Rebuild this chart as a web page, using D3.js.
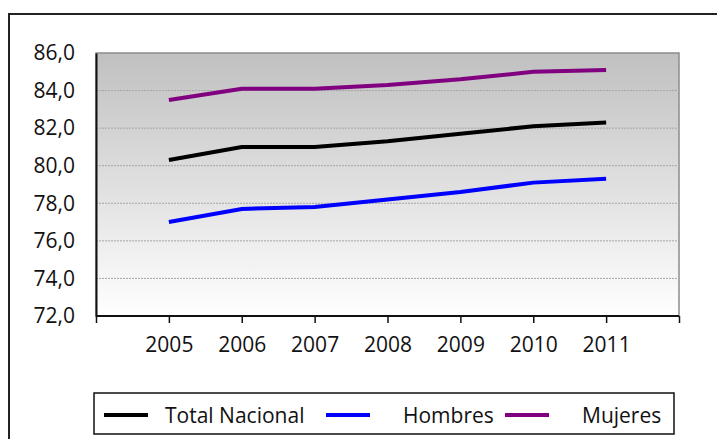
<!DOCTYPE html>
<html>
<head>
<meta charset="utf-8">
<script src="https://cdn.jsdelivr.net/npm/d3@7"></script>
<style>
  html, body { margin: 0; padding: 0; background: #fff; }
  svg { display: block; font-family: "Open Sans", sans-serif; }
</style>
</head>
<body>
<svg id="chart" width="717" height="439"></svg>
<script>
const years = [2005, 2006, 2007, 2008, 2009, 2010, 2011];
const totalNacional = [80.3, 81.0, 81.0, 81.3, 81.7, 82.1, 82.3];
const hombres = [77.0, 77.7, 77.8, 78.2, 78.6, 79.1, 79.3];
const mujeres = [83.5, 84.1, 84.1, 84.3, 84.6, 85.0, 85.1];
const yTicks = [72, 74, 76, 78, 80, 82, 84, 86];
const seriesNames = ["Total Nacional", "Hombres", "Mujeres"];
const seriesColors = ["#000000", "#0000ff", "#800080"];

(function () {
const series = [totalNacional, hombres, mujeres];
const svg = d3.select("#chart");

// outer frame
svg.append("rect").attr("x", 9).attr("y", 14).attr("width", 730).attr("height", 450)
  .attr("fill", "#fff").attr("stroke", "#222").attr("stroke-width", 2);

const pL = 96, pR = 679, pT = 53, pB = 316;
const x = d3.scaleLinear().domain([2004, 2012]).range([pL, pR]);
const y = d3.scaleLinear().domain([72, 86]).range([pB, pT]);

const defs = svg.append("defs");
const grad = defs.append("linearGradient").attr("id", "bg").attr("x1", 0).attr("y1", 0).attr("x2", 0).attr("y2", 1);
grad.append("stop").attr("offset", "0%").attr("stop-color", "#c0c0c0");
grad.append("stop").attr("offset", "100%").attr("stop-color", "#ffffff");

svg.append("rect").attr("x", pL).attr("y", pT).attr("width", pR - pL).attr("height", pB - pT)
  .attr("fill", "url(#bg)").attr("stroke", "#8c8c8c").attr("stroke-width", 1.5);

// gridlines
svg.append("g").selectAll("line").data(yTicks.filter(d => d > 72 && d < 86)).join("line")
  .attr("x1", pL).attr("x2", pR).attr("y1", d => y(d)).attr("y2", d => y(d))
  .attr("stroke", "#a6a6a6").attr("stroke-width", 1).attr("stroke-dasharray", "2,1");

// y axis
const yAxis = d3.axisLeft(y).tickValues(yTicks).tickSize(0).tickPadding(21)
  .tickFormat(d => d3.format(".1f")(d).replace(".", ","));
const gy = svg.append("g").attr("transform", `translate(${pL},0)`).call(yAxis);
gy.select(".domain").attr("stroke", "#111").attr("stroke-width", 2);
gy.selectAll("text").attr("font-size", 21).attr("fill", "#111").attr("font-family", "Open Sans");

// x axis
const xAxis = d3.axisBottom(x).tickValues(d3.range(2004, 2013)).tickSize(7).tickPadding(14)
  .tickFormat(d => years.includes(d) ? String(d) : "");
const gx = svg.append("g").attr("transform", `translate(0,${pB})`).call(xAxis);
gx.select(".domain").attr("stroke", "#111").attr("stroke-width", 2).attr("d", `M${pL},0H${pR}`);
gx.selectAll(".tick line").attr("stroke", "#111").attr("stroke-width", 1.5);
gx.selectAll("text").attr("font-size", 21).attr("fill", "#111").attr("font-family", "Open Sans");

// lines
const line = d3.line().x((d, i) => x(years[i])).y(d => y(d));
svg.append("g").selectAll("path").data(series).join("path")
  .attr("d", d => line(d)).attr("fill", "none")
  .attr("stroke", (d, i) => seriesColors[i]).attr("stroke-width", 4);

// legend
const lg = svg.append("g");
lg.append("rect").attr("x", 94).attr("y", 393).attr("width", 580).attr("height", 41)
  .attr("fill", "#fff").attr("stroke", "#111").attr("stroke-width", 1.5);
const legendLineX = [104, 326, 505];
const legendTextX = [165, 403, 582];
seriesNames.forEach((name, i) => {
  lg.append("line").attr("x1", legendLineX[i]).attr("x2", legendLineX[i] + 44)
    .attr("y1", 415).attr("y2", 415).attr("stroke", seriesColors[i]).attr("stroke-width", 4);
  lg.append("text").attr("x", legendTextX[i]).attr("y", 423).attr("font-size", 21)
    .attr("fill", "#111").text(name);
});
})();
</script>
</body>
</html>
